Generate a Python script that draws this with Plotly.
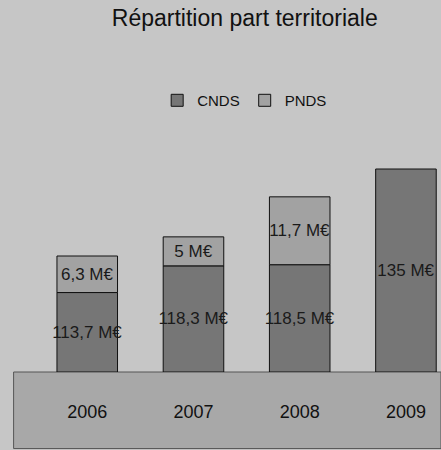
import plotly.graph_objects as go

years = ["2006", "2007", "2008", "2009"]
cnds = [113.7, 118.3, 118.5, 135]
pnds = [6.3, 5, 11.7, None]
cnds_labels = ["113,7 M€", "118,3 M€", "118,5 M€", "135 M€"]
pnds_labels = ["6,3 M€", "5 M€", "11,7 M€", ""]
axis_min = 100

fig = go.Figure()
fig.add_trace(go.Bar(
    name="CNDS", x=years, y=[v - axis_min for v in cnds], base=axis_min,
    text=cnds_labels, textposition="inside", insidetextanchor="middle",
    constraintext="none", textangle=0,
    textfont=dict(size=17, color="#1a1a1a", family="Liberation Sans"),
    marker=dict(color="#767676", line=dict(color="#111111", width=1)),
))
fig.add_trace(go.Bar(
    name="PNDS", x=years, y=pnds, base=cnds,
    text=pnds_labels, textposition="inside", insidetextanchor="middle",
    constraintext="none", textangle=0,
    textfont=dict(size=17, color="#1a1a1a", family="Liberation Sans"),
    marker=dict(color="#a2a2a2", line=dict(color="#111111", width=1)),
))

fig.update_layout(
    barmode="overlay",
    width=441, height=450,
    margin=dict(l=32, r=0, t=140, b=78),
    paper_bgcolor="#c6c6c6", plot_bgcolor="#c6c6c6",
    bargap=0.43,
    title=dict(text="Répartition part territoriale", x=0.555, xanchor="center",
               y=0.96, yanchor="middle",
               font=dict(size=23, color="#111111", family="Liberation Sans Narrow, Liberation Sans")),
    legend=dict(orientation="h", x=0.52, xanchor="center", y=1.17, yanchor="middle",
                font=dict(size=15, color="#111111", family="Liberation Sans"),
                bgcolor="rgba(0,0,0,0)", traceorder="normal"),
    showlegend=True,
    xaxis=dict(range=[-0.52, 3.33], showgrid=False, showline=False, zeroline=False,
               ticks="", ticklabelstandoff=27,
               tickfont=dict(size=18, color="#111111", family="Liberation Sans")),
    yaxis=dict(range=[axis_min, 140], visible=False),
    shapes=[dict(type="rect", xref="paper", yref="paper", x0=-0.045, x1=1.0,
                 y0=-0.33, y1=0.0, fillcolor="#a8a8a8", line=dict(color="#555555", width=1),
                 layer="below")],
)

fig.write_html("out.html", config={"displayModeBar": False},
               post_script="document.body.style.margin='0px';")
